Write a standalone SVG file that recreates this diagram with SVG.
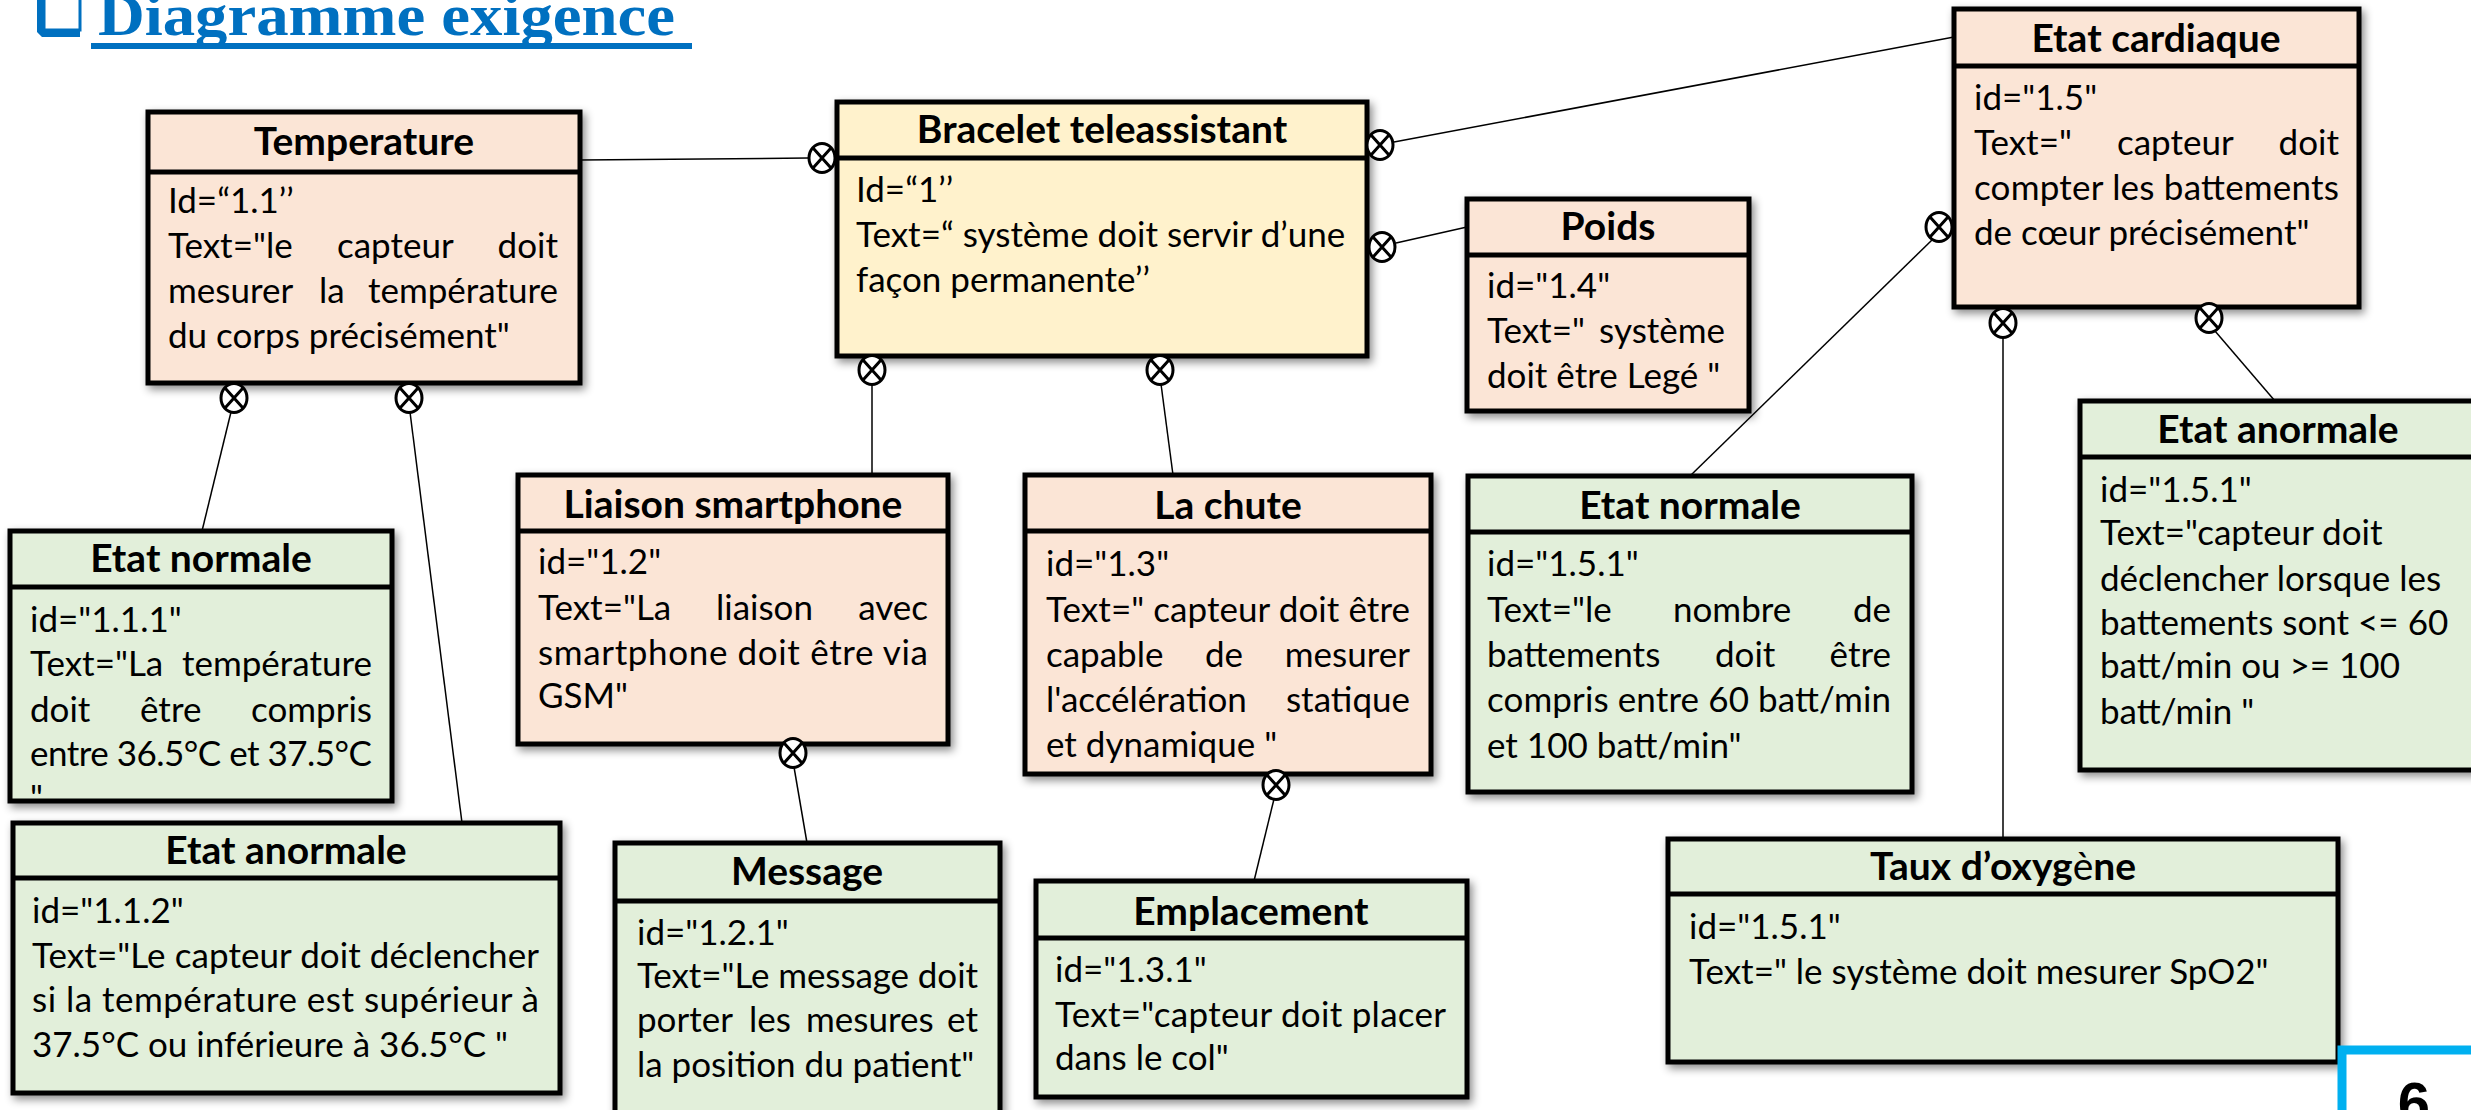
<svg xmlns="http://www.w3.org/2000/svg" width="2471" height="1110" viewBox="0 0 2471 1110">
<style>
.box{stroke:#000;stroke-width:5;filter:url(#sh)}
.peach{fill:#FBE5D6}.green{fill:#E2EFDA}.yellow{fill:#FFF2CC}
.hd{stroke:#000;stroke-width:5}
.ttl{font-family:Lato,"Liberation Sans",sans-serif;font-weight:700;font-size:39px;text-anchor:middle;fill:#000}
.bd{font-family:Lato,"Liberation Sans",sans-serif;font-size:35px;fill:#000}
.cn line{stroke:#000;stroke-width:1.5}
.xm ellipse{fill:#fff;stroke:#000;stroke-width:3}
.xm path{stroke:#000;stroke-width:3;fill:none}
</style>
<defs>
<filter id="sh" x="-10%" y="-10%" width="120%" height="120%">
<feDropShadow dx="3" dy="4" stdDeviation="4" flood-color="#000" flood-opacity="0.45"/>
</filter>
<g id="xm" class="xm"><ellipse cx="0" cy="0" rx="13" ry="14.5"/><path d="M-9.2,-10.3 L9.2,10.3 M9.2,-10.3 L-9.2,10.3"/></g>
</defs>
<rect width="2471" height="1110" fill="#fff"/>

<g id="title">
<rect x="44" y="-10" width="36" height="40" fill="none" stroke="#0070C0" stroke-width="3"/>
<path d="M37,-10 L44,-10 L44,30 L80,30 L80,37 L42,37 L37,32 Z" fill="#0070C0"/>
<text x="98" y="35" font-family="'Liberation Serif',serif" font-weight="700" font-size="60" fill="#0070C0" textLength="577" lengthAdjust="spacingAndGlyphs">Diagramme exigence</text>
<rect x="91" y="43" width="601" height="6" fill="#0070C0"/>
</g>

<g id="connectors" class="cn">
<line x1="580" y1="160" x2="808" y2="158"/>
<line x1="1394" y1="142" x2="1954" y2="37"/>
<line x1="1396" y1="243" x2="1467" y2="227"/>
<line x1="872" y1="384" x2="872" y2="475"/>
<line x1="1161" y1="384" x2="1173" y2="475"/>
<line x1="231" y1="412" x2="202" y2="531"/>
<line x1="410" y1="412" x2="462" y2="823"/>
<line x1="794" y1="767" x2="807" y2="843"/>
<line x1="1274" y1="799" x2="1254" y2="881"/>
<line x1="1932" y1="240" x2="1690" y2="476"/>
<line x1="2003" y1="337" x2="2003" y2="839"/>
<line x1="2215" y1="331" x2="2275" y2="401"/>
</g>

<g id="n-temperature">
<rect class="box peach" x="148" y="112" width="432" height="271"/>
<line class="hd" x1="148" y1="172" x2="580" y2="172"/>
<text class="ttl" x="364" y="155">Temperature</text>
<text class="bd" x="168" y="213">Id=“1.1’’</text>
<text class="bd" y="258"><tspan x="168">Text="le</tspan><tspan x="337">capteur</tspan><tspan x="558" text-anchor="end">doit</tspan></text>
<text class="bd" y="303"><tspan x="168">mesurer</tspan><tspan x="319">la</tspan><tspan x="558" text-anchor="end">température</tspan></text>
<text class="bd" x="168" y="348">du corps précisément"</text>
</g>

<g id="n-bracelet">
<rect class="box yellow" x="837" y="102" width="530" height="254"/>
<line class="hd" x1="837" y1="158" x2="1367" y2="158"/>
<text class="ttl" x="1102" y="143">Bracelet teleassistant</text>
<text class="bd" x="856" y="202">Id=“1’’</text>
<text class="bd" x="856" y="247">Text=“ système doit servir d’une</text>
<text class="bd" x="856" y="292">façon permanente’’</text>
</g>

<g id="n-poids">
<rect class="box peach" x="1467" y="199" width="282" height="212"/>
<line class="hd" x1="1467" y1="255" x2="1749" y2="255"/>
<text class="ttl" x="1608" y="240">Poids</text>
<text class="bd" x="1487" y="298">id="1.4"</text>
<text class="bd" y="343"><tspan x="1487">Text="</tspan><tspan x="1725" text-anchor="end">système</tspan></text>
<text class="bd" x="1487" y="388">doit être Legé "</text>
</g>

<g id="n-etat-cardiaque">
<rect class="box peach" x="1954" y="9" width="405" height="298"/>
<line class="hd" x1="1954" y1="66" x2="2359" y2="66"/>
<text class="ttl" x="2156" y="52">Etat cardiaque</text>
<text class="bd" x="1974" y="110">id="1.5"</text>
<text class="bd" y="155"><tspan x="1974">Text="</tspan><tspan x="2117">capteur</tspan><tspan x="2339" text-anchor="end">doit</tspan></text>
<text class="bd" x="1974" y="200" textLength="365">compter les battements</text>
<text class="bd" x="1974" y="245">de cœur précisément"</text>
</g>

<g id="n-etat-normale-111">
<rect class="box green" x="10" y="531" width="382" height="270"/>
<line class="hd" x1="10" y1="587" x2="392" y2="587"/>
<text class="ttl" x="201" y="572">Etat normale</text>
<text class="bd" x="30" y="632">id="1.1.1"</text>
<text class="bd" y="676"><tspan x="30">Text="La</tspan><tspan x="372" text-anchor="end">température</tspan></text>
<text class="bd" y="722"><tspan x="30">doit</tspan><tspan x="140">être</tspan><tspan x="372" text-anchor="end">compris</tspan></text>
<text class="bd" x="30" y="766" textLength="342">entre  36.5°C et 37.5°C</text>
<text class="bd" x="30" y="810">"</text>
</g>

<g id="n-etat-anormale-112">
<rect class="box green" x="13" y="823" width="547" height="270"/>
<line class="hd" x1="13" y1="878" x2="560" y2="878"/>
<text class="ttl" x="286" y="864">Etat anormale</text>
<text class="bd" x="32" y="923">id="1.1.2"</text>
<text class="bd" x="32" y="968" textLength="507">Text="Le capteur doit déclencher</text>
<text class="bd" x="32" y="1012" textLength="507">si la température est supérieur à</text>
<text class="bd" x="32" y="1057">37.5°C ou inférieure à 36.5°C "</text>
</g>

<g id="n-liaison">
<rect class="box peach" x="518" y="475" width="430" height="269"/>
<line class="hd" x1="518" y1="531" x2="948" y2="531"/>
<text class="ttl" x="733" y="518">Liaison smartphone</text>
<text class="bd" x="538" y="574">id="1.2"</text>
<text class="bd" y="620"><tspan x="538">Text="La</tspan><tspan x="716">liaison</tspan><tspan x="928" text-anchor="end">avec</tspan></text>
<text class="bd" x="538" y="665" textLength="390">smartphone doit être via</text>
<text class="bd" x="538" y="708">GSM"</text>
</g>

<g id="n-chute">
<rect class="box peach" x="1025" y="475" width="406" height="299"/>
<line class="hd" x1="1025" y1="531" x2="1431" y2="531"/>
<text class="ttl" x="1228" y="519">La chute</text>
<text class="bd" x="1046" y="576">id="1.3"</text>
<text class="bd" x="1046" y="622" textLength="364">Text=" capteur doit être</text>
<text class="bd" y="667"><tspan x="1046">capable</tspan><tspan x="1205">de</tspan><tspan x="1410" text-anchor="end">mesurer</tspan></text>
<text class="bd" y="712"><tspan x="1046">l'accélération</tspan><tspan x="1410" text-anchor="end">statique</tspan></text>
<text class="bd" x="1046" y="757">et dynamique "</text>
</g>

<g id="n-etat-normale-151">
<rect class="box green" x="1468" y="476" width="444" height="316"/>
<line class="hd" x1="1468" y1="532" x2="1912" y2="532"/>
<text class="ttl" x="1690" y="519">Etat normale</text>
<text class="bd" x="1487" y="576">id="1.5.1"</text>
<text class="bd" y="622"><tspan x="1487">Text="le</tspan><tspan x="1673">nombre</tspan><tspan x="1891" text-anchor="end">de</tspan></text>
<text class="bd" y="667"><tspan x="1487">battements</tspan><tspan x="1715">doit</tspan><tspan x="1891" text-anchor="end">être</tspan></text>
<text class="bd" x="1487" y="712" textLength="404">compris entre 60 batt/min</text>
<text class="bd" x="1487" y="758">et 100 batt/min"</text>
</g>

<g id="n-message">
<rect class="box green" x="615" y="843" width="385" height="290"/>
<line class="hd" x1="615" y1="901" x2="1000" y2="901"/>
<text class="ttl" x="807" y="885">Message</text>
<text class="bd" x="637" y="945">id="1.2.1"</text>
<text class="bd" x="637" y="988" textLength="341">Text="Le message doit</text>
<text class="bd" y="1032"><tspan x="637">porter</tspan><tspan x="749">les</tspan><tspan x="806">mesures</tspan><tspan x="978" text-anchor="end">et</tspan></text>
<text class="bd" x="637" y="1077">la position du patient"</text>
</g>

<g id="n-emplacement">
<rect class="box green" x="1036" y="881" width="431" height="216"/>
<line class="hd" x1="1036" y1="938" x2="1467" y2="938"/>
<text class="ttl" x="1251" y="925">Emplacement</text>
<text class="bd" x="1055" y="982">id="1.3.1"</text>
<text class="bd" x="1055" y="1027" textLength="391">Text="capteur doit placer</text>
<text class="bd" x="1055" y="1070">dans le col"</text>
</g>

<g id="n-taux">
<rect class="box green" x="1668" y="839" width="670" height="223"/>
<line class="hd" x1="1668" y1="894" x2="2338" y2="894"/>
<text class="ttl" x="2003" y="880">Taux d’oxyg<tspan font-weight="400">è</tspan>ne</text>
<text class="bd" x="1689" y="939">id="1.5.1"</text>
<text class="bd" x="1689" y="984">Text=" le système doit mesurer SpO2"</text>
</g>

<g id="n-etat-anormale-151">
<rect class="box green" x="2080" y="401" width="396" height="369"/>
<line class="hd" x1="2080" y1="457" x2="2476" y2="457"/>
<text class="ttl" x="2278" y="443">Etat anormale</text>
<text class="bd" x="2100" y="502">id="1.5.1"</text>
<text class="bd" x="2100" y="545">Text="capteur doit</text>
<text class="bd" x="2100" y="591">déclencher lorsque les</text>
<text class="bd" x="2100" y="635">battements sont &lt;= 60</text>
<text class="bd" x="2100" y="678">batt/min ou &gt;= 100</text>
<text class="bd" x="2100" y="724">batt/min "</text>
</g>

<g id="markers">
<use href="#xm" x="822" y="158"/>
<use href="#xm" x="1380" y="145"/>
<use href="#xm" x="1382" y="247"/>
<use href="#xm" x="872" y="370"/>
<use href="#xm" x="1160" y="370"/>
<use href="#xm" x="234" y="398"/>
<use href="#xm" x="409" y="398"/>
<use href="#xm" x="793" y="753"/>
<use href="#xm" x="1276" y="785"/>
<use href="#xm" x="1939" y="227"/>
<use href="#xm" x="2003" y="323"/>
<use href="#xm" x="2209" y="318"/>
</g>

<g id="page-number">
<rect x="2342" y="1050" width="200" height="100" fill="#fff" stroke="#00B0F0" stroke-width="9"/>
<text x="2414" y="1123" font-family="'Liberation Sans',sans-serif" font-weight="700" font-size="58" text-anchor="middle" fill="#000">6</text>
</g>
</svg>
